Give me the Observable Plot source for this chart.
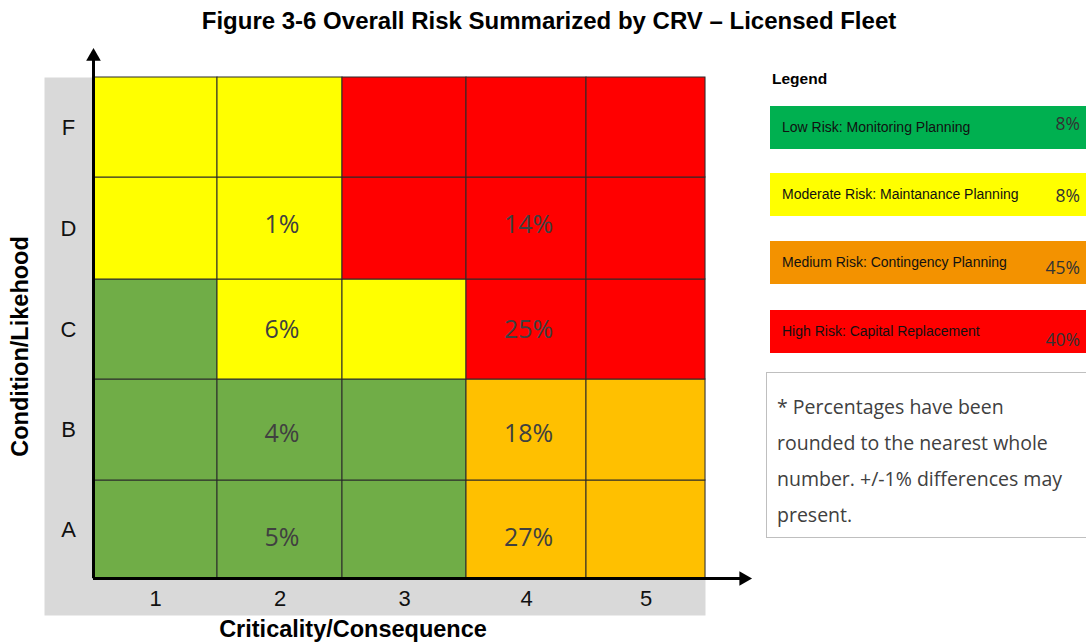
<!DOCTYPE html>
<html><head><meta charset="utf-8">
<script src="https://cdn.jsdelivr.net/npm/d3@7"></script>
<script src="https://cdn.jsdelivr.net/npm/@observablehq/plot@0.6"></script>
<style>
body{margin:0;background:#fff;width:1086px;height:643px;position:relative;overflow:hidden;font-family:"Liberation Sans",Arial,sans-serif;}
#title{position:absolute;left:0;top:0;width:1086px;height:40px;line-height:42px;text-align:center;font-weight:bold;font-size:24px;color:#000;padding-left:12px;box-sizing:border-box;}
#chart{position:absolute;left:0;top:40px;}
#legendTitle{position:absolute;left:772px;top:70px;font-weight:bold;font-size:15.5px;color:#000;}
.lg{position:absolute;left:770px;width:316px;height:43px;box-sizing:border-box;}
.lg .lab{position:absolute;left:12px;top:0;line-height:43px;font-size:14px;color:#111;}
.lg .pct{position:absolute;right:6px;line-height:43px;font-size:17.5px;color:#333;font-family:"Open Sans",sans-serif;}
#note{position:absolute;left:766px;top:372px;width:340px;height:166px;box-sizing:border-box;border:1.5px solid #bfbfbf;padding:16px 0 0 10px;font-family:"Open Sans",sans-serif;font-size:19.5px;line-height:36px;color:#404040;}
#note span{display:block;width:303px;}
</style></head>
<body>
<div id="title"></div>
<div id="chart"></div>
<div id="legendTitle">Legend</div>
<div id="legend"></div>
<div id="note"><span></span></div>
<script>
const titleText = "Figure 3-6 Overall Risk Summarized by CRV – Licensed Fleet";
const xTitle = "Criticality/Consequence";
const yTitle = "Condition/Likehood";
const rows = ["A","B","C","D","F"];
const cols = ["1","2","3","4","5"];
const riskLevels = ["Low","Moderate","Medium","High"];
const riskA = ["Low","Low","Low","Medium","Medium"];
const riskB = ["Low","Low","Low","Medium","Medium"];
const riskC = ["Low","Moderate","Moderate","High","High"];
const riskD = ["Moderate","Moderate","High","High","High"];
const riskF = ["Moderate","Moderate","High","High","High"];
const pctA = [null,5,null,27,null];
const pctB = [null,4,null,18,null];
const pctC = [null,6,null,25,null];
const pctD = [null,1,null,14,null];
const pctF = [null,null,null,null,null];
const legendLabels = ["Low Risk: Monitoring Planning","Moderate Risk: Maintanance Planning","Medium Risk: Contingency Planning","High Risk: Capital Replacement"];
const legendPct = [8,8,45,40];
const noteText = "* Percentages have been rounded to the nearest whole number. +/-1% differences may present.";

const gridColors = ["#70AD47","#FFFF00","#FFC000","#FF0000"];
const legendColors = ["#00B050","#FFFF00","#F39200","#FF0000"];
const valueDy = {A: 8.5, B: 4, C: 0, D: -3.5, F: 0};

const riskRows = {A:riskA,B:riskB,C:riskC,D:riskD,F:riskF};
const pctRows = {A:pctA,B:pctB,C:pctC,D:pctD,F:pctF};
const cells = [];
rows.forEach((r, ri) => cols.forEach((c, ci) => cells.push({row:r, col:c, ri, ci, risk:riskRows[r][ci], pct:pctRows[r][ci]})));

document.getElementById("title").textContent = titleText;

const xEnd = 5.32, yEnd = 5.21;
const valueMarks = rows.map(r => Plot.text(cells.filter(d => d.row === r && d.pct != null), {
  x: d => d.ci + 0.5, y: d => d.ri + 0.5, text: d => d.pct + "%",
  fontSize: 25, fill: "#404040", fontFamily: "'Open Sans', sans-serif", dx: 2, dy: valueDy[r]
}));
const chart = Plot.plot({
  width: 760, height: 603,
  marginLeft: 44, marginRight: 55, marginTop: 37, marginBottom: 28,
  x: {type: "linear", domain: [0, 1, 2, 3, 4, 5], range: [93, 217, 342, 466, 586, 705], axis: null},
  y: {type: "linear", domain: [0, 1, 2, 3, 4, 5], range: [538, 440, 339, 239, 137, 37], axis: null},
  color: {domain: riskLevels, range: gridColors},
  style: {fontFamily: "'Liberation Sans', Arial, sans-serif", background: "transparent", overflow: "visible"},
  marks: [
    Plot.frame({fill: "#d9d9d9", stroke: null}),
    Plot.rect(cells, {x1: "ci", x2: d => d.ci + 1, y1: "ri", y2: d => d.ri + 1, fill: "risk", stroke: "#2b2b2b", strokeWidth: 1}),
    ...valueMarks,
    Plot.ruleY([0], {x1: 0, x2: xEnd, stroke: "#000", strokeWidth: 3}),
    Plot.ruleX([0], {y1: 0, y2: yEnd, stroke: "#000", strokeWidth: 3}),
    Plot.dot([{x: xEnd, y: 0}], {x: "x", y: "y", symbol: "triangle2", r: 7, fill: "#000", stroke: null, rotate: 90}),
    Plot.dot([{x: 0, y: yEnd}], {x: "x", y: "y", symbol: "triangle2", r: 7, fill: "#000", stroke: null}),
    Plot.text(cols, {x: (d, i) => i + 0.5, y: () => 0, dy: 20, fontSize: 22, fill: "#111"}),
    Plot.text(rows, {x: () => 0, y: (d, i) => i + 0.5, dx: -25, fontSize: 22, fill: "#111"}),
    Plot.text([yTitle], {frameAnchor: "left", textAnchor: "middle", rotate: -90, dx: -24, fontWeight: "bold", fontSize: 23.5, fill: "#000"}),
    Plot.text([xTitle], {frameAnchor: "bottom", textAnchor: "middle", dx: -22, dy: 21, fontWeight: "bold", fontSize: 23.5, fill: "#000"})
  ]
});
document.getElementById("chart").appendChild(chart);

const legendTops = [106, 173, 241, 310];
const pctShift = [-4, 1, 5, 8];
const lg = document.getElementById("legend");
legendLabels.forEach((lab, i) => {
  const d = document.createElement("div");
  d.className = "lg";
  d.style.top = legendTops[i] + "px";
  d.style.background = legendColors[i];
  d.innerHTML = `<span class="lab"></span><span class="pct"></span>`;
  d.querySelector(".lab").textContent = lab;
  const p = d.querySelector(".pct");
  p.textContent = legendPct[i] + "%";
  p.style.top = pctShift[i] + "px";
  lg.appendChild(d);
});
document.querySelector("#note span").textContent = noteText;
</script>
</body></html>
